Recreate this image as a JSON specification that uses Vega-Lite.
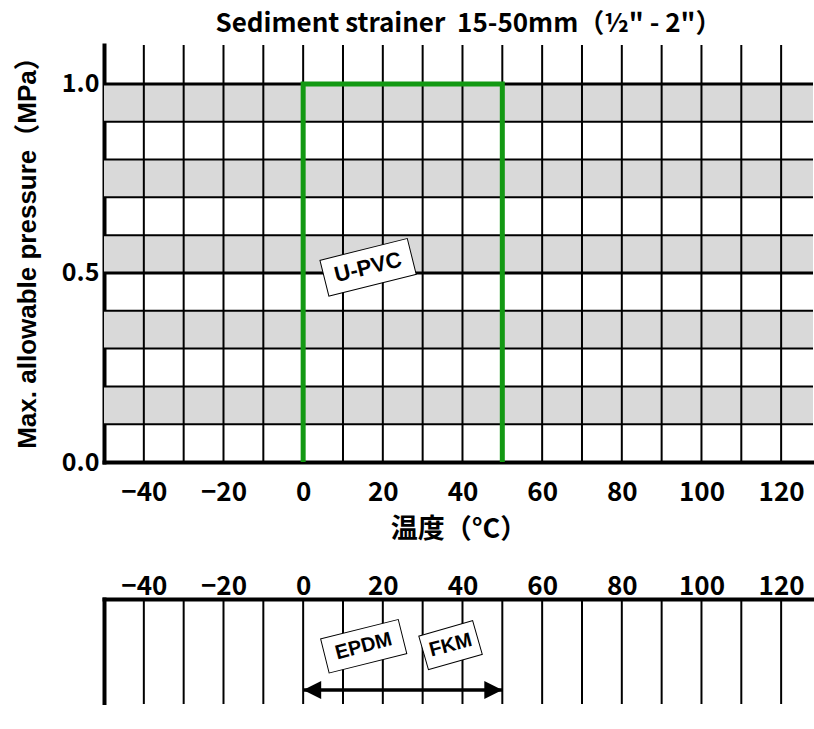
{
  "$schema": "https://vega.github.io/schema/vega-lite/v6.json",
  "padding": {"left": 14, "top": 10, "right": 0, "bottom": 0},
  "background": "white",
  "spacing": 137,
  "bounds": "flush",
  "config": {
    "view": {"stroke": null},
    "axis": {
      "labelFont": "Noto Sans CJK JP",
      "labelFontWeight": "bold",
      "labelFontSize": 26,
      "labelColor": "black",
      "titleColor": "black",
      "domainColor": "black",
      "domainWidth": 4,
      "domainCap": "square",
      "ticks": false,
      "grid": false
    }
  },
  "datasets": {
    "bands": [
      {"y0": 0.1, "y1": 0.2},
      {"y0": 0.3, "y1": 0.4},
      {"y0": 0.5, "y1": 0.6},
      {"y0": 0.7, "y1": 0.8},
      {"y0": 0.9, "y1": 1.0}
    ],
    "vlines": [
      {"t": -40}, {"t": -30}, {"t": -20}, {"t": -10}, {"t": 0}, {"t": 10}, {"t": 20}, {"t": 30},
      {"t": 40}, {"t": 50}, {"t": 60}, {"t": 70}, {"t": 80}, {"t": 90}, {"t": 100}, {"t": 110}, {"t": 120}
    ],
    "hlines": [
      {"p": 0.1, "major": false}, {"p": 0.2, "major": false}, {"p": 0.3, "major": false}, {"p": 0.4, "major": false},
      {"p": 0.5, "major": true}, {"p": 0.6, "major": false}, {"p": 0.7, "major": false}, {"p": 0.8, "major": false},
      {"p": 0.9, "major": false}, {"p": 1.0, "major": true}
    ],
    "upvc": [
      {"order": 1, "temp": 0, "pressure": 0},
      {"order": 2, "temp": 0, "pressure": 1.0},
      {"order": 3, "temp": 50, "pressure": 1.0},
      {"order": 4, "temp": 50, "pressure": 0}
    ],
    "toplabel": [{"label": "U-PVC", "x": 16.3, "y": 0.515}],
    "arrow": [{"start": 0, "end": 50, "y": 0.133}],
    "seals": [
      {"label": "EPDM", "x": 15.2, "y": 0.55},
      {"label": "FKM", "x": 37.0, "y": 0.56}
    ]
  },
  "vconcat": [
    {
      "width": 709,
      "height": 417,
      "title": {
        "text": "Sediment strainer\u00a0\u00a015-50mm（½\" - 2\"）",
        "font": "Noto Sans CJK JP",
        "fontWeight": "bold",
        "fontSize": 26,
        "color": "black",
        "anchor": "middle",
        "offset": 7,
        "dx": 10
      },
      "layer": [
        {
          "data": {"name": "bands"},
          "mark": {"type": "rect", "color": "#d9d9d9"},
          "encoding": {
            "y": {"field": "y0", "type": "quantitative", "scale": {"domain": [0, 1.103], "nice": false, "zero": false},
              "axis": {"values": [0, 0.5, 1.0], "format": ".1f", "labelPadding": 5, "labelFontSize": 25,
                "title": "Max. allowable pressure（MPa）", "titleFont": "Liberation Sans, Noto Sans CJK JP",
                "titleFontSize": 26, "titleFontWeight": "bold", "titlePadding": 21, "titleY": 201}},
            "y2": {"field": "y1"}
          }
        },
        {
          "data": {"name": "vlines"},
          "mark": {"type": "rule", "color": "black", "strokeWidth": 2},
          "encoding": {
            "x": {"field": "t", "type": "quantitative", "scale": {"domain": [-50, 128], "nice": false, "zero": false},
              "axis": {"values": [-40, -20, 0, 20, 40, 60, 80, 100, 120], "labelPadding": 17,
                "title": "温度（°C）", "titleFont": "Noto Sans CJK JP", "titleFontSize": 27,
                "titleFontWeight": "bold", "titlePadding": 11}}
          }
        },
        {
          "data": {"name": "hlines"},
          "transform": [{"filter": "!datum.major"}],
          "mark": {"type": "rule", "color": "black", "strokeWidth": 2},
          "encoding": {"y": {"field": "p", "type": "quantitative"}}
        },
        {
          "data": {"name": "hlines"},
          "transform": [{"filter": "datum.major"}],
          "mark": {"type": "rule", "color": "black", "strokeWidth": 3},
          "encoding": {"y": {"field": "p", "type": "quantitative"}}
        },
        {
          "mark": {"type": "rule", "color": "black", "strokeWidth": 4},
          "encoding": {"y": {"datum": 1.103}}
        },
        {
          "data": {"name": "upvc"},
          "mark": {"type": "line", "color": "#139913", "strokeWidth": 5, "strokeJoin": "miter"},
          "encoding": {
            "x": {"field": "temp", "type": "quantitative"},
            "y": {"field": "pressure", "type": "quantitative"},
            "order": {"field": "order"}
          }
        },
        {
          "data": {"name": "toplabel"},
          "mark": {"type": "point", "shape": "M-1,-0.41L1,-0.41L1,0.41L-1,0.41Z", "size": 8100,
            "filled": true, "fill": "white", "stroke": "black", "strokeWidth": 1, "opacity": 1, "angle": -14},
          "encoding": {
            "x": {"field": "x", "type": "quantitative"},
            "y": {"field": "y", "type": "quantitative"}
          }
        },
        {
          "data": {"name": "toplabel"},
          "mark": {"type": "text", "font": "Liberation Sans", "fontWeight": "bold", "fontSize": 22,
            "angle": -14, "color": "black", "baseline": "middle", "align": "center"},
          "encoding": {
            "x": {"field": "x", "type": "quantitative"},
            "y": {"field": "y", "type": "quantitative"},
            "text": {"field": "label"}
          }
        }
      ]
    },
    {
      "width": 709,
      "height": 105,
      "layer": [
        {
          "data": {"name": "vlines"},
          "mark": {"type": "rule", "color": "black", "strokeWidth": 2},
          "encoding": {
            "x": {"field": "t", "type": "quantitative", "scale": {"domain": [-50, 128], "nice": false, "zero": false},
              "axis": {"orient": "top", "values": [-40, -20, 0, 20, 40, 60, 80, 100, 120], "labelPadding": 0, "title": null}}
          }
        },
        {
          "mark": {"type": "rule", "color": "black", "strokeWidth": 4, "strokeCap": "square"},
          "encoding": {"y": {"datum": 0, "type": "quantitative"}}
        },
        {
          "data": {"name": "arrow"},
          "mark": {"type": "rule", "color": "black", "strokeWidth": 3.5},
          "encoding": {
            "x": {"field": "start", "type": "quantitative"},
            "x2": {"field": "end"},
            "y": {"field": "y", "type": "quantitative", "scale": {"domain": [0, 1], "nice": false},
              "axis": {"labels": false, "title": null, "domainWidth": 4}}
          }
        },
        {
          "data": {"name": "arrow"},
          "mark": {"type": "point", "shape": "M0,0L1,-0.5L1,0.5Z", "size": 1296, "filled": true, "color": "black", "opacity": 1},
          "encoding": {
            "x": {"field": "start", "type": "quantitative"},
            "y": {"field": "y", "type": "quantitative"}
          }
        },
        {
          "data": {"name": "arrow"},
          "mark": {"type": "point", "shape": "M0,0L-1,-0.5L-1,0.5Z", "size": 1296, "filled": true, "color": "black", "opacity": 1},
          "encoding": {
            "x": {"field": "end", "type": "quantitative"},
            "y": {"field": "y", "type": "quantitative"}
          }
        },
        {
          "data": {"name": "seals"},
          "transform": [{"filter": "datum.label == 'EPDM'"}],
          "mark": {"type": "point", "shape": "M-1,-0.44L1,-0.44L1,0.44L-1,0.44Z", "size": 6400,
            "filled": true, "fill": "white", "stroke": "black", "strokeWidth": 1, "opacity": 1, "angle": -14},
          "encoding": {
            "x": {"field": "x", "type": "quantitative"},
            "y": {"field": "y", "type": "quantitative"}
          }
        },
        {
          "data": {"name": "seals"},
          "transform": [{"filter": "datum.label == 'FKM'"}],
          "mark": {"type": "point", "shape": "M-1,-0.625L1,-0.625L1,0.625L-1,0.625Z", "size": 3136,
            "filled": true, "fill": "white", "stroke": "black", "strokeWidth": 1, "opacity": 1, "angle": -16},
          "encoding": {
            "x": {"field": "x", "type": "quantitative"},
            "y": {"field": "y", "type": "quantitative"}
          }
        },
        {
          "data": {"name": "seals"},
          "mark": {"type": "text", "font": "Liberation Sans", "fontWeight": "bold", "fontSize": 20,
            "angle": -15, "color": "black", "baseline": "middle", "align": "center"},
          "encoding": {
            "x": {"field": "x", "type": "quantitative"},
            "y": {"field": "y", "type": "quantitative"},
            "text": {"field": "label"}
          }
        }
      ]
    }
  ]
}
